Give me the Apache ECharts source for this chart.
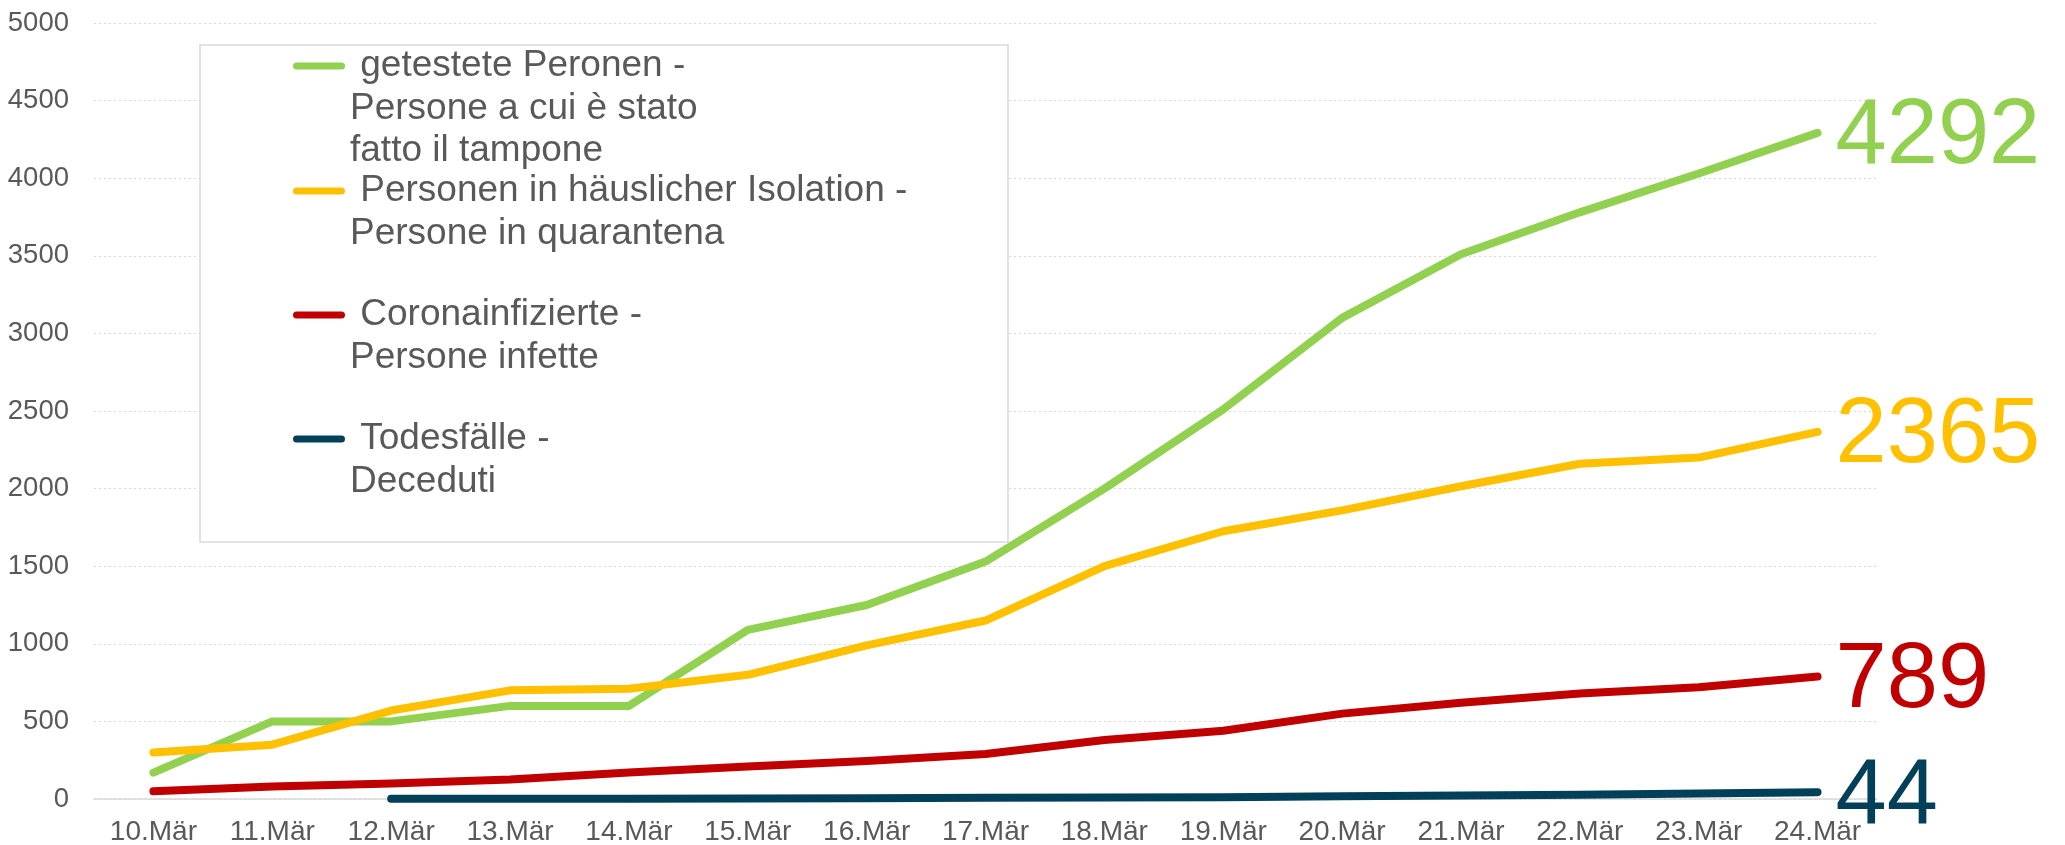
<!DOCTYPE html>
<html>
<head>
<meta charset="utf-8">
<script src="https://cdn.jsdelivr.net/npm/echarts@6/dist/echarts.min.js"></script>
<style>html,body{margin:0;padding:0;background:#fff}#c{width:2065px;height:845px}</style>
</head>
<body>
<div id="c"></div>
<script>
const categories = ['10.Mär','11.Mär','12.Mär','13.Mär','14.Mär','15.Mär','16.Mär','17.Mär','18.Mär','19.Mär','20.Mär','21.Mär','22.Mär','23.Mär','24.Mär'];
const nameTested = 'getestete Peronen -\nPersone a cui è stato\nfatto il tampone';
const nameIsolation = 'Personen in häuslicher Isolation -\nPersone in quarantena';
const nameInfected = 'Coronainfizierte -\nPersone infette';
const nameDeaths = 'Todesfälle -\nDeceduti';
const tested = [170, 500, 500, 600, 600, 1090, 1250, 1530, 2000, 2510, 3100, 3510, 3780, 4030, 4292];
const isolation = [300, 350, 570, 700, 710, 800, 990, 1150, 1500, 1725, 1860, 2015, 2160, 2200, 2365];
const infected = [50, 80, 100, 125, 170, 210, 245, 290, 380, 440, 550, 620, 680, 720, 789];
const deaths = [null, null, 1, 1, 2, 3, 5, 8, 10, 12, 17, 22, 28, 35, 44];
const yTicks = {min: 0, max: 5000, interval: 500};

const FONT = '"Liberation Sans", Arial, sans-serif';
const LH = 42.5;
const CAPSULE = 'path://M3.5,0 L48.5,0 A3.5,3.5 0 0 1 48.5,7 L3.5,7 A3.5,3.5 0 0 1 3.5,0 Z';
const chart = echarts.init(document.getElementById('c'));

function mkSeries(name, data, color) {
  return {
    name: name, type: 'line', data: data, symbol: 'none', showSymbol: false,
    connectNulls: false, z: 3,
    lineStyle: {color: color, width: 8, cap: 'round', join: 'round'},
    itemStyle: {color: color},
    endLabel: {show: true, formatter: p => String(p.value), color: color, fontSize: 92,
      fontFamily: FONT, distance: 18, offset: [0, 5]},
    emphasis: {disabled: true}
  };
}
function mkLegend(name, lines, center) {
  const h = (2 * lines - 1) * LH;
  return {
    data: [name], orient: 'vertical', left: 293, top: center - h / 2, padding: 0,
    itemWidth: 52, itemHeight: 7, z: 5, selectedMode: false, icon: CAPSULE,
    formatter: n => '\n'.repeat(lines - 1) + ' ' + n,
    textStyle: {fontSize: 37, fontFamily: FONT, color: '#595959', lineHeight: LH}
  };
}

chart.setOption({
  animation: false,
  backgroundColor: '#fff',
  grid: {left: 94, right: 188, top: 23, bottom: 46, containLabel: false, outerBoundsMode: 'none'},
  xAxis: {
    type: 'category', data: categories, boundaryGap: true,
    axisLine: {show: true, lineStyle: {color: '#D9D9D9', width: 1.5}},
    axisTick: {show: false},
    axisLabel: {color: '#595959', fontSize: 28, fontFamily: FONT, margin: 19, interval: 0}
  },
  yAxis: {
    type: 'value', min: yTicks.min, max: yTicks.max, interval: yTicks.interval,
    axisLine: {show: false}, axisTick: {show: false},
    axisLabel: {color: '#595959', fontSize: 27.5, fontFamily: FONT, margin: 25,
      formatter: v => String(v)},
    splitLine: {show: true, lineStyle: {color: '#D9D9D9', type: [2, 3], width: 1}}
  },
  graphic: [{
    type: 'rect', z: 1, shape: {x: 200, y: 45, width: 808, height: 497},
    style: {fill: '#fff', stroke: '#D9D9D9', lineWidth: 1.5}
  }],
  legend: [
    mkLegend(nameTested, 3, 66),
    mkLegend(nameIsolation, 2, 191),
    mkLegend(nameInfected, 2, 315),
    mkLegend(nameDeaths, 2, 439)
  ],
  series: [
    mkSeries(nameTested, tested, '#92D050'),
    mkSeries(nameIsolation, isolation, '#FFC000'),
    mkSeries(nameInfected, infected, '#C00000'),
    mkSeries(nameDeaths, deaths, '#02405A')
  ]
});
</script>
</body>
</html>
